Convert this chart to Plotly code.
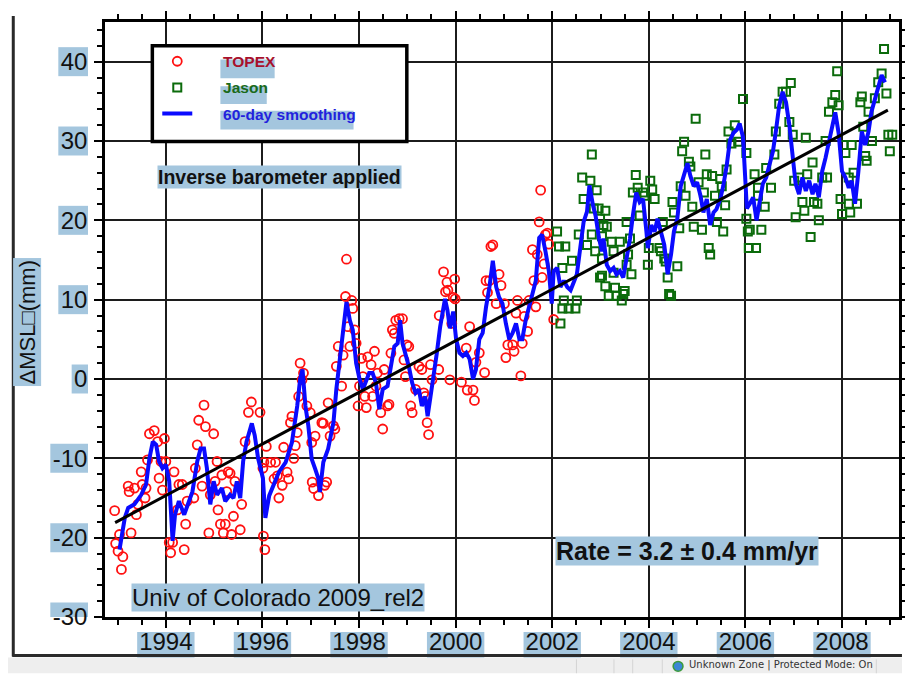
import plotly.graph_objects as go

# ---------------- data ----------------
topex_year = [1992.94, 1992.96, 1993.01, 1993.04, 1993.08, 1993.11, 1993.22, 1993.24, 1993.28, 1993.35,
              1993.39, 1993.42, 1993.49, 1993.51, 1993.57, 1993.59, 1993.62, 1993.66, 1993.76, 1993.83,
              1993.86, 1993.90, 1993.93, 1993.97, 1994.00, 1994.07, 1994.10, 1994.14, 1994.17, 1994.24,
              1994.27, 1994.34, 1994.38, 1994.41, 1994.44, 1994.58, 1994.61, 1994.65, 1994.68, 1994.75,
              1994.79, 1994.82, 1994.89, 1994.92, 1994.99, 1995.02, 1995.06, 1995.08, 1995.13, 1995.16,
              1995.19, 1995.23, 1995.26, 1995.29, 1995.33, 1995.36, 1995.40, 1995.43, 1995.54, 1995.57,
              1995.64, 1995.71, 1995.77, 1995.95, 1996.01, 1996.02, 1996.05, 1996.08, 1996.03, 1996.17,
              1996.24, 1996.27, 1996.31, 1996.34, 1996.41, 1996.44, 1996.51, 1996.54, 1996.58, 1996.61,
              1996.65, 1996.68, 1996.72, 1996.75, 1996.78, 1996.82, 1996.85, 1996.92, 1996.99, 1997.02,
              1997.03, 1997.06, 1997.09, 1997.16, 1997.23, 1997.26, 1997.29, 1997.33, 1997.36, 1997.40,
              1997.47, 1997.50, 1997.53, 1997.57, 1997.64, 1997.67, 1997.72, 1997.74, 1997.77, 1997.81,
              1997.85, 1997.87, 1997.91, 1997.94, 1997.98, 1998.01, 1998.05, 1998.08, 1998.12, 1998.15,
              1998.18, 1998.25, 1998.28, 1998.32, 1998.35, 1998.38, 1998.45, 1998.49, 1998.52, 1998.59,
              1998.62, 1998.66, 1998.69, 1998.73, 1998.76, 1998.83, 1998.90, 1998.93, 1998.96, 1998.99,
              1999.03, 1999.07, 1999.10, 1999.17, 1999.24, 1999.30, 1999.34, 1999.37, 1999.41, 1999.44,
              1999.48, 1999.51, 1999.65, 1999.66, 1999.75, 1999.79, 1999.82, 1999.84, 1999.88, 1999.92,
              1999.95, 1999.98, 1999.99, 2000.12, 2000.22, 2000.29, 2000.24, 2000.36, 2000.39, 2000.42,
              2000.49, 2000.60, 2000.63, 2000.66, 2000.70, 2000.73, 2000.77, 2000.84, 2000.90, 2000.94,
              2001.01, 2001.04, 2001.08, 2001.18, 2001.21, 2001.25, 2001.28, 2001.35, 2001.38, 2001.42,
              2001.49, 2001.52, 2001.59, 2001.62, 2001.66, 2001.69, 2001.73, 2001.76, 2001.79, 2001.83,
              2001.86, 2001.90, 2001.93, 2002.03]
topex_mm = [-16.6, -20.75, -21.7, -19.6, -24.0, -22.4, -13.5, -14.2, -19.4, -13.75,
            -17.1, -15.8, -11.7, -13.3, -15.0, -13.75, -10.2, -6.9, -6.5, -7.9,
            -12.5, -10.4, -14.0, -7.5, -10.4, -20.6, -21.9, -20.6, -11.7, -16.5,
            -13.3, -13.3, -21.5, -18.3, -15.4, -15.0, -11.25, -8.3, -5.2, -13.5,
            -3.3, -6.0, -19.4, -14.6, -6.9, -12.9, -10.4, -16.5, -18.3, -12.1,
            -19.4, -18.3, -14.2, -11.7, -11.9, -19.6, -17.3, -12.9, -19.0, -15.8,
            -7.9, -4.2, -2.9, -4.2, -11.25, -19.8, -21.5, -8.5, -10.5, -10.5,
            -12.6, -10.5, -12.2, -15.0, -13.4, -8.6, -11.75, -12.6, -5.5, -4.7,
            -10.0, -8.4, -6.75, -2.2, 2.0, -0.1, 0.75, -3.4, -4.25, -8.0,
            -13.0, -13.8, -7.2, -14.7, -5.5, -5.6, -13.4, -13.0, -3.0, -7.2,
            -5.9, -6.3, 1.6, 4.1, -0.9, 3.0, 10.4, 15.1, 6.6, 4.1,
            9.9, 8.9, 6.2, 4.5, -3.4, -0.9, 2.6, 0.3, -2.2, -3.6,
            2.8, 1.8, -2.2, 3.5, -0.9, 0.75, -4.25, -6.3, 1.2, -3.4,
            -3.2, 3.25, 6.2, 5.75, 7.4, 7.6, 7.6, 2.4, 0.3, 4.3,
            4.1, -3.4, -4.25, -1.3, 1.6, 1.2, -1.75, -2.2, -5.5, -7.0,
            1.8, -0.1, 1.2, 8.0, 13.5, 11.0, 12.2, 11.2, -0.1, 7.0,
            10.3, 12.6, 10.1, -0.4, 3.9, 6.6, -1.4, -1.4, -2.7, 2.1,
            3.3, 0.8, 12.4, 10.9, 12.4, 16.7, 16.9, 9.5, 13.2, 11.8,
            9.5, 2.7, 4.3, 4.3, 3.5, 8.3, 9.9, 0.4, 4.5, 7.9,
            6.0, 9.9, 16.3, 12.4, 9.1, 15.7, 19.8, 23.8, 12.8, 14.5,
            18.2, 18.4, 17.0, 7.5]

jason_year = [2002.10, 2002.14, 2002.17, 2002.21, 2002.21, 2002.24, 2002.27, 2002.34, 2002.41, 2002.48,
              2002.51, 2002.55, 2002.62, 2002.65, 2002.72, 2002.79, 2002.82, 2002.82, 2002.86, 2002.89,
              2002.92, 2002.96, 2002.99, 2002.99, 2003.03, 2003.03, 2003.03, 2003.06, 2003.10, 2003.10,
              2003.13, 2003.17, 2003.23, 2003.27, 2003.27, 2003.30, 2003.33, 2003.40, 2003.44, 2003.47,
              2003.50, 2003.54, 2003.54, 2003.57, 2003.61, 2003.64, 2003.67, 2003.73, 2003.77, 2003.81,
              2003.88, 2003.91, 2003.98, 2004.00, 2004.03, 2004.07, 2004.12, 2004.22, 2004.25, 2004.29,
              2004.32, 2004.35, 2004.39, 2004.42, 2004.46, 2004.49, 2004.52, 2004.59, 2004.63, 2004.66,
              2004.69, 2004.73, 2004.76, 2004.83, 2004.86, 2004.90, 2004.93, 2004.97, 2005.03, 2005.10,
              2005.14, 2005.17, 2005.20, 2005.24, 2005.27, 2005.31, 2005.37, 2005.41, 2005.48, 2005.51,
              2005.54, 2005.58, 2005.61, 2005.65, 2005.71, 2005.78, 2005.85, 2005.95, 2006.02, 2006.02,
              2006.05, 2006.07, 2006.09, 2006.19, 2006.22, 2006.26, 2006.26, 2006.33, 2006.40, 2006.43,
              2006.53, 2006.60, 2006.63, 2006.70, 2006.77, 2006.84, 2006.91, 2006.94, 2006.98, 2007.01,
              2007.04, 2007.11, 2007.18, 2007.22, 2007.25, 2007.28, 2007.35, 2007.39, 2007.42, 2007.49,
              2007.52, 2007.59, 2007.66, 2007.69, 2007.73, 2007.80, 2007.86, 2007.90, 2007.93, 2007.97,
              2008.00, 2008.03, 2008.07, 2008.14, 2008.14, 2008.17, 2008.20, 2008.24, 2008.31, 2008.38,
              2008.41, 2008.44, 2008.48, 2008.51, 2008.55, 2008.62, 2008.68, 2008.75, 2008.82, 2008.87,
              2008.92, 2008.96, 2008.99, 2009.04]
jason_mm = [18.6, 16.7, 7.0, 14.0, 8.9, 9.9, 16.7, 8.9, 14.9, 8.9,
            9.9, 18.2, 25.4, 22.7, 16.9, 25.0, 18.2, 28.3, 21.5, 16.1,
            23.8, 21.5, 20.2, 12.8, 18.0, 15.2, 13.0, 19.4, 21.2, 11.7,
            19.2, 10.5, 17.3, 16.1, 13.4, 11.5, 10.5, 17.3, 9.9, 10.7,
            11.1, 14.4, 19.8, 15.7, 17.7, 13.2, 23.5, 25.7, 24.1, 20.6,
            23.5, 23.1, 14.4, 16.5, 25.0, 23.9, 22.7, 16.5, 16.1, 19.8,
            15.2, 14.8, 12.8, 10.7, 10.5, 22.3, 21.0, 14.2, 19.0, 24.3,
            28.7, 29.9, 23.1, 27.4, 26.8, 21.7, 19.2, 32.8, 24.8, 18.8,
            23.5, 28.3, 25.8, 16.5, 15.7, 25.6, 23.1, 19.8, 25.2, 24.3,
            18.6, 21.9, 26.4, 31.2, 29.7, 32.0, 29.9, 35.3, 28.5, 20.2,
            18.6, 16.5, 18.8, 25.8, 16.5, 24.1, 23.1, 18.8, 21.7, 26.6,
            24.1, 28.3, 31.2, 34.7, 36.2, 36.2, 32.4, 37.3, 30.8, 25.0,
            20.4, 25.4, 22.3, 21.2, 30.4, 25.8, 17.9, 27.3, 22.3, 22.1,
            20.0, 25.4, 30.0, 25.4, 33.7, 34.9, 35.8, 38.8, 34.5, 22.7,
            20.8, 29.5, 28.5, 25.4, 22.1, 21.0, 29.5, 26.0, 22.1, 34.9,
            35.6, 31.8, 28.1, 27.5, 33.7, 30.0, 35.4, 37.4, 38.5, 41.6,
            36.0, 30.8, 28.7, 30.8]

smooth_year = [1993.04, 1993.15, 1993.22, 1993.35, 1993.49, 1993.59, 1993.66, 1993.73, 1993.80, 1993.86,
               1993.93, 1994.00, 1994.07, 1994.14, 1994.19, 1994.27, 1994.38, 1994.48, 1994.55, 1994.65,
               1994.72, 1994.79, 1994.85, 1994.92, 1994.99, 1995.06, 1995.16, 1995.23, 1995.33, 1995.40,
               1995.47, 1995.54, 1995.60, 1995.67, 1995.78, 1995.84, 1995.91, 1996.01, 1996.06, 1996.14,
               1996.27, 1996.34, 1996.48, 1996.61, 1996.72, 1996.78, 1996.83, 1996.89, 1996.95, 1997.02,
               1997.09, 1997.16, 1997.19, 1997.26, 1997.36, 1997.47, 1997.53, 1997.60, 1997.67, 1997.74,
               1997.81, 1997.87, 1997.94, 1998.01, 1998.08, 1998.15, 1998.21, 1998.28, 1998.35, 1998.42,
               1998.49, 1998.59, 1998.66, 1998.73, 1998.80, 1998.85, 1998.90, 1998.96, 1999.03, 1999.10,
               1999.17, 1999.24, 1999.30, 1999.37, 1999.42, 1999.48, 1999.54, 1999.61, 1999.68, 1999.78,
               1999.83, 1999.88, 1999.95, 2000.01, 2000.08, 2000.15, 2000.22, 2000.29, 2000.36, 2000.42,
               2000.49, 2000.56, 2000.63, 2000.70, 2000.77, 2000.84, 2000.90, 2000.97, 2001.04, 2001.11,
               2001.18, 2001.25, 2001.32, 2001.38, 2001.45, 2001.52, 2001.59, 2001.66, 2001.73, 2001.79,
               2001.86, 2001.93, 2001.99, 2002.03, 2002.10, 2002.17, 2002.24, 2002.31, 2002.38, 2002.45,
               2002.51, 2002.58, 2002.65, 2002.72, 2002.77, 2002.84, 2002.90, 2002.97, 2003.03, 2003.06,
               2003.13, 2003.20, 2003.27, 2003.33, 2003.40, 2003.47, 2003.54, 2003.61, 2003.67, 2003.74,
               2003.81, 2003.88, 2003.95, 2003.98, 2004.05, 2004.12, 2004.18, 2004.25, 2004.32, 2004.39,
               2004.46, 2004.52, 2004.59, 2004.66, 2004.73, 2004.80, 2004.86, 2004.93, 2005.00, 2005.07,
               2005.13, 2005.20, 2005.27, 2005.34, 2005.40, 2005.48, 2005.54, 2005.61, 2005.68, 2005.75,
               2005.82, 2005.88, 2005.95, 2005.99, 2006.03, 2006.09, 2006.16, 2006.23, 2006.29, 2006.36,
               2006.43, 2006.50, 2006.57, 2006.63, 2006.70, 2006.77, 2006.84, 2006.91, 2006.98, 2007.04,
               2007.11, 2007.18, 2007.25, 2007.32, 2007.39, 2007.45, 2007.52, 2007.59, 2007.66, 2007.73,
               2007.80, 2007.86, 2007.93, 2008.00, 2008.07, 2008.14, 2008.20, 2008.27, 2008.34, 2008.41,
               2008.48, 2008.55, 2008.61, 2008.68, 2008.75, 2008.82, 2008.89]
smooth_mm = [-21.5, -17.5, -16.25, -15.8, -14.6, -13.3, -10.0, -7.9, -8.3, -10.4,
             -11.25, -10.8, -12.9, -20.4, -17.1, -15.4, -17.1, -15.4, -14.2, -10.4,
             -8.75, -8.75, -11.25, -15.8, -12.9, -14.6, -13.75, -15.4, -14.6, -15.0,
             -12.9, -15.0, -10.4, -7.9, -5.6, -7.1, -10.0, -12.5, -17.5, -14.7,
             -12.6, -11.75, -10.5, -8.0, -3.4, 0.0, 1.2, -3.4, -5.9, -10.1,
             -11.3, -12.6, -14.25, -10.5, -8.8, -5.5, -1.3, 2.4, 5.75, 9.7,
             7.4, 6.2, 2.0, 0.0, -1.3, 0.0, 0.75, 0.75, -0.5, -3.8,
             -1.3, -0.9, 1.6, 4.1, 4.5, 7.4, 4.5, 3.25, 1.6, -0.5,
             -1.75, -1.3, -3.4, -2.2, -4.7, -2.2, 0.75, 3.25, 6.6, 10.1,
             8.7, 6.4, 8.5, 5.0, 3.3, 2.9, 3.3, 2.5, 0.0, 1.2,
             5.0, 5.8, 9.1, 11.6, 14.9, 11.6, 10.3, 9.5, 7.0, 5.0,
             5.8, 7.0, 5.0, 5.0, 7.4, 9.1, 10.7, 12.4, 17.8, 18.2,
             16.1, 13.6, 9.5, 13.6, 14.0, 11.6, 12.4, 11.6, 11.2, 12.4,
             13.2, 16.5, 19.8, 21.1, 24.4, 22.0, 20.5, 17.7, 16.1, 17.7,
             14.4, 13.6, 14.0, 13.2, 13.6, 12.8, 15.2, 17.7, 20.6, 23.5,
             22.3, 22.7, 18.6, 16.5, 19.4, 18.6, 20.2, 18.6, 16.9, 13.2,
             15.7, 18.6, 20.2, 24.3, 26.0, 27.2, 25.6, 24.3, 24.8, 23.1,
             21.0, 22.7, 19.4, 21.0, 21.4, 22.7, 24.3, 26.8, 30.1, 31.0,
             31.4, 32.2, 30.5, 26.0, 21.5, 22.1, 22.9, 20.0, 22.1, 24.6,
             25.4, 27.0, 28.7, 31.2, 34.5, 36.2, 34.9, 32.0, 27.9, 24.6,
             23.3, 25.4, 23.7, 25.0, 23.3, 24.6, 22.9, 26.2, 27.9, 30.0,
             31.6, 33.6, 31.0, 26.2, 25.4, 24.1, 25.0, 22.1, 26.2, 31.2,
             29.5, 31.2, 33.7, 35.4, 37.0, 38.3, 37.4]

trend_year = [1992.95, 2008.95]
trend_mm = [-18.1, 33.9]

x_tick_vals = [1994, 1996, 1998, 2000, 2002, 2004, 2006, 2008]
x_tick_text = ["1994", "1996", "1998", "2000", "2002", "2004", "2006", "2008"]
y_tick_vals = [-30, -20, -10, 0, 10, 20, 30, 40]
y_tick_text = ["-30", "-20", "-10", "0", "10", "20", "30", "40"]
x_range = [1992.74, 2009.18]
y_range = [-30, 45]

legend_names = ["TOPEX", "Jason", "60-day smoothing"]
legend_colors = ["#a8102c", "#1a6a1a", "#2222dd"]

# ---------------- layout geometry (page pixels; the page has an 8 px body margin) ----------------
OFF = 8
W, H = 913 - OFF, 674 - OFF
L, R, T, B = 105, 910, 14, 617          # plot area in page pixels
PW, PH = R - L, B - T
HL = "#a4c6de"
FONT = "Liberation Sans, Arial, sans-serif"


def pxx(x):
    return (x - L) / PW


def pxy(y):
    return (B - y) / PH


fig = go.Figure()

fig.add_trace(go.Scatter(
    x=topex_year, y=topex_mm, mode="markers", name=legend_names[0],
    marker=dict(symbol="circle-open", size=9, color="#ff1010", line=dict(width=1.8, color="#ff1010")),
    legendgroup="a"))
fig.add_trace(go.Scatter(
    x=jason_year, y=jason_mm, mode="markers", name=legend_names[1],
    marker=dict(symbol="square-open", size=8, color="#0b6b0b", line=dict(width=2, color="#0b6b0b")),
    legendgroup="b"))
fig.add_trace(go.Scatter(
    x=smooth_year, y=smooth_mm, mode="lines", name=legend_names[2],
    line=dict(color="#0a0aff", width=4), legendgroup="c"))
fig.add_trace(go.Scatter(
    x=trend_year, y=trend_mm, mode="lines", showlegend=False,
    line=dict(color="#000000", width=3)))

# legend names coloured (leading no-break spaces push the text right of the symbol)
PAD = "\u00a0" * 6
for tr, name, col in zip(fig.data[:3], legend_names, legend_colors):
    tr.name = '%s<span style="color:%s">%s</span>' % (PAD, col, name)

shapes = []
# legend box (white, thick border)
shapes.append(dict(type="rect", xref="paper", yref="paper", layer="above",
                   x0=pxx(153), x1=pxx(411), y0=pxy(38), y1=pxy(135),
                   fillcolor="white", line=dict(color="black", width=3.5)))
# highlight behind legend texts
for (x0, x1, y0, y1) in [(222, 277, 52, 71), (222, 269, 79, 97), (222, 357, 104, 123)]:
    shapes.append(dict(type="rect", xref="paper", yref="paper", layer="above",
                       x0=pxx(x0), x1=pxx(x1), y0=pxy(y0), y1=pxy(y1),
                       fillcolor=HL, line=dict(width=0)))

# tick label highlight boxes (behind axis tick labels)
for v, t in zip(x_tick_vals, x_tick_text):
    w = len(t) * 0.556 * 24 + 4
    shapes.append(dict(type="rect", xref="x", yref="paper", layer="below",
                       xsizemode="pixel", xanchor=v, x0=-w / 2, x1=w / 2,
                       ysizemode="pixel", yanchor=0, y0=-15, y1=-42,
                       fillcolor=HL, line=dict(width=0)))
for v, t in zip(y_tick_vals, y_tick_text):
    w = sum(0.333 if c == "-" else 0.556 for c in t) * 24 + 3
    shapes.append(dict(type="rect", xref="paper", yref="y", layer="below",
                       xsizemode="pixel", xanchor=0, x0=-17 - w, x1=-17,
                       ysizemode="pixel", yanchor=v, y0=-14.5, y1=14.5,
                       fillcolor=HL, line=dict(width=0)))

# window frame + status bar of the screenshot
shapes.append(dict(type="rect", xref="paper", yref="paper", layer="below",
                   x0=pxx(0), x1=pxx(913), y0=pxy(674), y1=pxy(658),
                   fillcolor="#eeeeee", line=dict(width=0)))
for sx in [583, 621, 640, 670, 887]:
    shapes.append(dict(type="line", xref="paper", yref="paper", layer="below",
                       x0=pxx(sx), x1=pxx(sx), y0=pxy(660), y1=pxy(674),
                       line=dict(color="#d4d4d4", width=1)))
shapes.append(dict(type="line", xref="paper", yref="paper", layer="below",
                   x0=pxx(12), x1=pxx(12), y0=pxy(8), y1=pxy(657),
                   line=dict(color="#2a2a2a", width=3)))
shapes.append(dict(type="line", xref="paper", yref="paper", layer="below",
                   x0=pxx(11), x1=pxx(913), y0=pxy(656), y1=pxy(656),
                   line=dict(color="#2a2a2a", width=3)))
shapes.append(dict(type="circle", xref="paper", yref="paper", layer="below",
                   x0=pxx(681), x1=pxx(691), y0=pxy(662), y1=pxy(672),
                   fillcolor="#3b86d6", line=dict(color="#3c9a3c", width=1.5)))

annotations = [
    dict(text="<b>Inverse barometer applied</b>", xref="paper", yref="paper",
         x=pxx(281.5), y=pxy(171), xanchor="center", yanchor="middle", showarrow=False,
         font=dict(family=FONT, size=19.5, color="#111"), bgcolor=HL, borderpad=0),
    dict(text="Univ of Colorado 2009_rel2", xref="paper", yref="paper",
         x=pxx(280), y=pxy(597.5), xanchor="center", yanchor="middle", showarrow=False,
         font=dict(family=FONT, size=24, color="#111"), bgcolor=HL, borderpad=0),
    dict(text="<b>Rate = 3.2 ± 0.4 mm/yr</b>", xref="paper", yref="paper",
         x=pxx(695.5), y=pxy(550), xanchor="center", yanchor="middle", showarrow=False,
         font=dict(family=FONT, size=25, color="#111"), bgcolor=HL, borderpad=0),
    dict(text="ΔMSL\u25a1(mm)", xref="paper", yref="paper", textangle=-90,
         x=pxx(26.5), y=pxy(318), xanchor="center", yanchor="middle", showarrow=False,
         font=dict(family=FONT, size=22, color="#111"), bgcolor=HL, borderpad=1),
    dict(text="Unknown Zone | Protected Mode: On", xref="paper", yref="paper",
         x=pxx(695), y=pxy(666), xanchor="left", yanchor="middle", showarrow=False,
         font=dict(family="DejaVu Sans, sans-serif", size=10, color="#333")),
]

axis_common = dict(showline=True, linecolor="black", linewidth=2.5, mirror="allticks",
                   showgrid=True, gridcolor="#1c1c1c", gridwidth=2, zeroline=False,
                   ticks="outside", ticklen=8, tickwidth=2, tickcolor="black",
                   tickfont=dict(family=FONT, size=24, color="#111"))

fig.update_layout(
    width=W, height=H, autosize=False,
    margin=dict(l=L - OFF, r=W - (R - OFF), t=T - OFF, b=H - (B - OFF), pad=0),
    paper_bgcolor="white", plot_bgcolor="white",
    showlegend=True,
    legend=dict(x=pxx(158), y=pxy(37), xanchor="left", yanchor="top",
                bgcolor="rgba(0,0,0,0)", borderwidth=0, tracegroupgap=3,
                font=dict(family=FONT, size=15.5, color="#111", weight="bold")),
    shapes=shapes, annotations=annotations,
    xaxis=dict(range=x_range, tickmode="array", tickvals=x_tick_vals, ticktext=x_tick_text,
               ticklabelstandoff=-7,
               minor=dict(dtick=0.5, tick0=1993, ticks="outside", ticklen=5, tickwidth=1.5,
                          tickcolor="black", showgrid=False),
               **axis_common),
    yaxis=dict(range=y_range, tickmode="array", tickvals=y_tick_vals, ticktext=y_tick_text,
               ticklabelstandoff=2,
               minor=dict(dtick=2, tick0=0, ticks="outside", ticklen=5, tickwidth=1.5,
                          tickcolor="black", showgrid=False),
               **axis_common),
)

fig.write_html("out.html")
